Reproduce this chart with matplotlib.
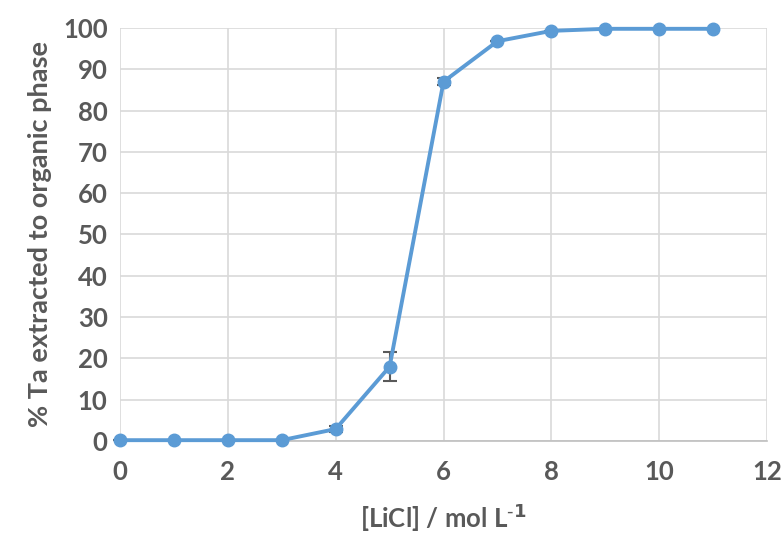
import matplotlib
matplotlib.use('Agg')
import matplotlib.pyplot as plt

# LiCl concentration (mol/L) vs % Ta extracted
licl_conc = [0, 1, 2, 3, 4, 5, 6, 7, 8, 9, 10, 11]
ta_extracted = [0.2, 0.2, 0.2, 0.2, 2.9, 18.0, 87.0, 96.8, 99.3, 99.8, 99.8, 99.8]
ta_error = [0, 0, 0, 0, 0.8, 3.5, 0.8, 0, 0, 0, 0, 0]

x_ticks = [0, 2, 4, 6, 8, 10, 12]
y_ticks = [0, 10, 20, 30, 40, 50, 60, 70, 80, 90, 100]

text_color = '#595959'
line_color = '#5b9bd5'

plt.rcParams['font.family'] = ['Lato', 'DejaVu Sans']

fig = plt.figure(figsize=(7.81, 5.35), dpi=100)
ax = fig.add_axes([0.1537, 0.1757, 0.8284, 0.772])

ax.errorbar(licl_conc, ta_extracted, yerr=ta_error, color=line_color,
            linewidth=2.8, marker='o', markersize=9,
            ecolor='#595959', elinewidth=1.5, capsize=5, capthick=1.5,
            zorder=3, clip_on=False)

ax.set_xlim(0, 12)
ax.set_ylim(0, 100)
ax.set_xticks(x_ticks)
ax.set_yticks(y_ticks)
ax.grid(True, color='#d9d9d9', linewidth=1.2, zorder=0)
ax.set_axisbelow(True)
for side in ['top', 'right', 'left']:
    ax.spines[side].set_visible(False)
ax.spines['bottom'].set_color('#bfbfbf')
ax.spines['bottom'].set_linewidth(1.2)
ax.tick_params(length=0, labelsize=18.5, colors=text_color)
ax.tick_params(axis='x', pad=14)
ax.tick_params(axis='y', pad=9)
for lbl in ax.get_xticklabels() + ax.get_yticklabels():
    lbl.set_fontweight('bold')

ax.set_xlabel('[LiCl] / mol L$^{\\mathbf{\\text{-}1}}$', fontsize=18.5,
              fontweight='bold', color=text_color, labelpad=12)
ax.set_ylabel('% Ta extracted to organic phase', fontsize=19.5,
              fontweight='bold', color=text_color, labelpad=8)

fig.savefig('out.png', dpi=100)
